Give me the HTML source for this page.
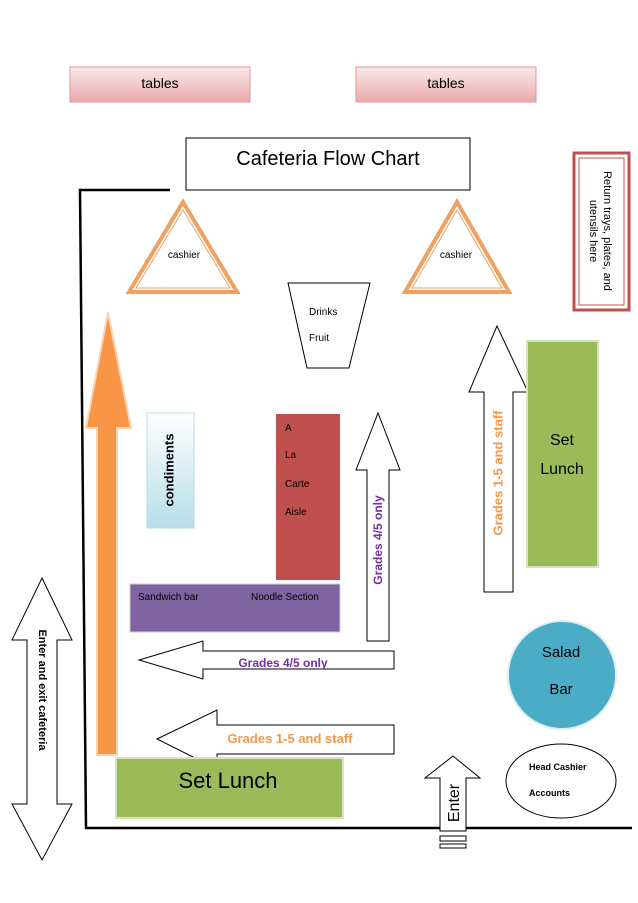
<!DOCTYPE html>
<html><head><meta charset="utf-8"><style>
html,body{margin:0;padding:0;background:#fff}
svg{display:block;font-family:"Liberation Sans",sans-serif}
</style></head><body>
<svg width="638" height="903" viewBox="0 0 638 903" xmlns="http://www.w3.org/2000/svg">
<defs>
<linearGradient id="pk" x1="0" y1="0" x2="0" y2="1"><stop offset="0" stop-color="#fbe9ea"/><stop offset="1" stop-color="#e9a9ab"/></linearGradient>
<linearGradient id="bl" x1="0" y1="0" x2="0" y2="1"><stop offset="0" stop-color="#ffffff"/><stop offset="1" stop-color="#b6dde8"/></linearGradient>
</defs>
<!-- tables -->
<rect x="70" y="67" width="180" height="35" fill="url(#pk)" stroke="#d99" stroke-width="1"/>
<text x="160" y="88" font-size="14" text-anchor="middle">tables</text>
<rect x="356" y="67" width="180" height="35" fill="url(#pk)" stroke="#d99" stroke-width="1"/>
<text x="446" y="88" font-size="14" text-anchor="middle">tables</text>
<!-- title -->
<rect x="186" y="138" width="284" height="52" fill="#fff" stroke="#000" stroke-width="1"/>
<text x="328" y="165" font-size="20" text-anchor="middle">Cafeteria Flow Chart</text>
<!-- walls -->
<polyline points="170,190 80,190 86,828 632,828" fill="none" stroke="#000" stroke-width="2.5"/>
<!-- triangles -->
<polygon points="183,202 129,292 237,292" fill="#fff" stroke="#f0a060" stroke-width="4"/>
<polygon points="183,210 136,288 230,288" fill="none" stroke="#f0a060" stroke-width="1"/>
<text x="184" y="258" font-size="10" text-anchor="middle">cashier</text>
<polygon points="457,202 405,292 509,292" fill="#fff" stroke="#f0a060" stroke-width="4"/>
<polygon points="457,210 412,288 502,288" fill="none" stroke="#f0a060" stroke-width="1"/>
<text x="456" y="258" font-size="10" text-anchor="middle">cashier</text>
<!-- return box -->
<rect x="574" y="153" width="55" height="157" fill="#fff" stroke="#c0504d" stroke-width="3"/>
<rect x="579" y="158" width="45" height="147" fill="none" stroke="#c0504d" stroke-width="1"/>
<g transform="translate(601,231) rotate(90)">
<text x="0" y="-3" font-size="11" text-anchor="middle">Return trays, plates, and</text>
<text x="0" y="11" font-size="11" text-anchor="middle">utensils here</text>
</g>
<!-- drinks -->
<polygon points="288,283 370,283 349,368 307,368" fill="#fff" stroke="#000" stroke-width="1"/>
<text x="309" y="315" font-size="10">Drinks</text>
<text x="309" y="341" font-size="10">Fruit</text>
<!-- orange arrow -->
<polygon points="108,312 131,428 117,428 117,755 97,755 97,428 86,428" fill="#f79646" stroke="#fbd4b4" stroke-width="2"/>
<!-- condiments -->
<rect x="147" y="413" width="47" height="115" fill="url(#bl)" stroke="#b6dde8" stroke-width="1"/>
<text transform="translate(170,470) rotate(-90)" font-size="13" font-weight="bold" text-anchor="middle" dominant-baseline="middle">condiments</text>
<!-- a la carte -->
<rect x="276" y="414" width="64" height="166" fill="#c0504d"/>
<text x="285" y="431" font-size="10">A</text>
<text x="285" y="458" font-size="10">La</text>
<text x="285" y="487" font-size="10">Carte</text>
<text x="285" y="515" font-size="10">Aisle</text>
<!-- purple -->
<rect x="130" y="584" width="210" height="48" fill="#8064a2" stroke="#ccc" stroke-width="1"/>
<text x="138" y="600" font-size="10">Sandwich bar</text>
<text x="251" y="600" font-size="10">Noodle Section</text>
<!-- grades 4/5 up arrow -->
<polygon points="378,413 400,470 389,470 389,641 367,641 367,470 356,470" fill="#fff" stroke="#000" stroke-width="1"/>
<text transform="translate(379,540) rotate(-90)" font-size="12" font-weight="bold" fill="#7030a0" text-anchor="middle" dominant-baseline="middle">Grades 4/5 only</text>
<!-- grades 4/5 left arrow -->
<polygon points="139,660 203,641 203,651 394,651 394,669 203,669 203,679" fill="#fff" stroke="#000" stroke-width="1"/>
<text x="283" y="667" font-size="12" font-weight="bold" fill="#7030a0" text-anchor="middle">Grades 4/5 only</text>
<!-- grades 1-5 left arrow -->
<polygon points="157,739 217,710 217,725 394,725 394,754 217,754 217,769" fill="#fff" stroke="#000" stroke-width="1"/>
<text x="290" y="743" font-size="13" font-weight="bold" fill="#f79646" text-anchor="middle">Grades 1-5 and staff</text>
<!-- set lunch bottom -->
<rect x="116" y="758" width="227" height="60" fill="#9bbb59" stroke="#d6e3bc" stroke-width="2"/>
<polygon points="157,739 217,710 217,769" fill="#fff" stroke="#000" stroke-width="1" opacity="0"/>
<text x="228" y="788" font-size="22" text-anchor="middle">Set Lunch</text>
<!-- right up arrow -->
<polygon points="497,326 528,392 513,392 513,592 484,592 484,392 469,392" fill="#fff" stroke="#000" stroke-width="1"/>
<text transform="translate(499,473) rotate(-90)" font-size="13" font-weight="bold" fill="#f79646" text-anchor="middle" dominant-baseline="middle">Grades 1-5 and staff</text>
<!-- right set lunch -->
<rect x="527" y="341" width="71" height="226" fill="#9bbb59" stroke="#d6e3bc" stroke-width="2"/>
<text x="562" y="445" font-size="16" text-anchor="middle">Set</text>
<text x="562" y="474" font-size="16" text-anchor="middle">Lunch</text>
<!-- salad bar -->
<circle cx="562" cy="675" r="54" fill="#4bacc6" stroke="#daeef3" stroke-width="2"/>
<text x="561" y="657" font-size="15" text-anchor="middle">Salad</text>
<text x="561" y="694" font-size="15" text-anchor="middle">Bar</text>
<!-- head cashier -->
<ellipse cx="561" cy="781" rx="55" ry="37" fill="#fff" stroke="#000" stroke-width="1"/>
<text x="529" y="770" font-size="9" font-weight="bold">Head Cashier</text>
<text x="529" y="796" font-size="9" font-weight="bold">Accounts</text>
<!-- enter arrow -->
<polygon points="453,756 480,778 466,778 466,831 440,831 440,778 425,778" fill="#fff" stroke="#000" stroke-width="1"/>
<rect x="440" y="836" width="26" height="5" fill="#fff" stroke="#000" stroke-width="1"/>
<rect x="440" y="844" width="26" height="4" fill="#fff" stroke="#000" stroke-width="1"/>
<text transform="translate(455,803) rotate(-90)" font-size="16" text-anchor="middle" dominant-baseline="middle">Enter</text>
<!-- enter and exit double arrow -->
<polygon points="42,578 72,640 57,640 57,804 72,804 42,860 12,804 27,804 27,640 12,640" fill="#fff" stroke="#000" stroke-width="1"/>
<text transform="translate(42,690) rotate(90)" font-size="11" font-weight="bold" text-anchor="middle" dominant-baseline="middle">Enter  and exit cafeteria</text>
</svg>
</body></html>
